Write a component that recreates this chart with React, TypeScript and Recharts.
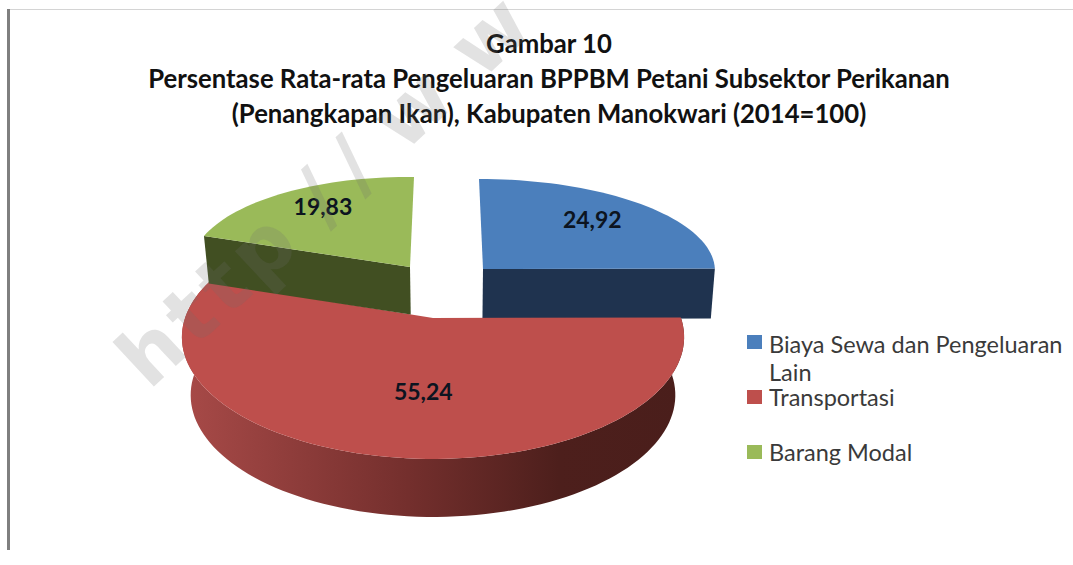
import React from 'react';
import { PieChart, Pie, Legend } from 'recharts';

const titleLines = [
  'Gambar 10',
  'Persentase Rata-rata Pengeluaran BPPBM Petani Subsektor Perikanan',
  '(Penangkapan Ikan), Kabupaten Manokwari (2014=100)',
];
const categories = ['Biaya Sewa dan Pengeluaran Lain', 'Transportasi', 'Barang Modal'];
const values = [24.92, 55.24, 19.83];
const topColors = ['#4b7fbc', '#be4f4c', '#9aba59'];
const wallColors = ['#1f334f', 'url(#redWall)', '#414f22'];

const data = categories.map((name, i) => ({ name, value: values[i], fill: topColors[i] }));

// Look of each exploded slice: offset from the pie centre, ellipse shape, perspective, wall.
const sliceLook = [
  { ox: 50, oy: -49, rx: 0.935, ry: 0.363, k: 0, sx: -4, sy: 0, depth: 50, vx: 446, taper: 0.985, wall: 'end', lr: 0.68, ldx: 0, ldy: -7 },
  { ox: 0, oy: 0, rx: 1, ry: 0.479, k: 0.157, sx: 0, sy: 0, depth: 58, vx: 433, taper: 0.965, wall: 'rim', lr: 0.57, ldx: 15, ldy: 0 },
  { ox: -23, oy: -51, rx: 0.882, ry: 0.363, k: 0, sx: 4, sy: 2.4, depth: 47.5, vx: 446, taper: 0.98, wall: 'start', lr: 0.7, ldx: 0, ldy: -9 },
];

const project = (look: any, cx: number, cy: number, R: number, theta: number, r = 1) => {
  const a = (theta * Math.PI) / 180;
  const u = r * Math.sin(a);
  const v = r * Math.cos(a);
  const w = 1 + look.k * v;
  return {
    x: cx + look.ox + (R * look.rx * u) / w + look.sx * v,
    y: cy + look.oy - (R * look.ry * v) / w + look.sy * u,
  };
};

const toPath = (pts: { x: number; y: number }[]) =>
  pts.map((p, i) => `${i ? 'L' : 'M'}${p.x.toFixed(2)},${p.y.toFixed(2)}`).join(' ') + ' Z';

const Slice3D = (props: any) => {
  const { cx, cy, outerRadius, startAngle, endAngle, payload, fill } = props;
  const i = categories.indexOf(payload?.name ?? props.name);
  const look = sliceLook[i];
  const t0 = 90 - startAngle;
  const t1 = 90 - endAngle;
  const n = Math.max(2, Math.ceil((t1 - t0) / 2));
  const rim: { x: number; y: number }[] = [];
  for (let s = 0; s <= n; s++) rim.push(project(look, cx, cy, outerRadius, t0 + ((t1 - t0) * s) / n));
  const apex = project(look, cx, cy, outerRadius, t0, 0);
  let wallTop = rim;
  if (look.wall === 'start') wallTop = [rim[0], apex];
  if (look.wall === 'end') wallTop = [apex, rim[rim.length - 1]];
  const wallBottom = wallTop
    .map((p) => ({ x: look.vx + (p.x - look.vx) * look.taper, y: p.y + look.depth }))
    .reverse();
  return (
    <g>
      <path d={toPath([...wallTop, ...wallBottom])} fill={wallColors[i]} />
      <path d={toPath([apex, ...rim])} fill={fill} />
    </g>
  );
};

const renderValue = (props: any) => {
  const { cx, cy, outerRadius, midAngle, index, value } = props;
  const look = sliceLook[index];
  const p = project(look, cx, cy, outerRadius, 90 - midAngle, look.lr);
  return (
    <text
      x={p.x + look.ldx}
      y={p.y + look.ldy}
      textAnchor="middle"
      dominantBaseline="central"
      fontFamily="Lato"
      fontWeight={700}
      fontSize={23}
      fill="#0c1420"
    >
      {String(value).replace('.', ',')}
    </text>
  );
};

const legendRowTops = [328, 383, 438];
const legendTextNudge = [1.5, 0, 0];

const LegendContent = ({ payload }: any) => (
  <div style={{ position: 'relative', width: 325, height: 145, fontFamily: 'Lato', fontSize: 23.5, color: '#3a3a3a' }}>
    {(payload ?? []).map((entry: any, i: number) => (
      <div key={entry.value} style={{ position: 'absolute', left: 0, top: legendRowTops[i] - 328, width: 325 }}>
        <span style={{ position: 'absolute', left: 0, top: 7, width: 15, height: 14, background: entry.color }} />
        <div style={{ marginLeft: 22, marginTop: legendTextNudge[i], width: 300, lineHeight: '28px' }}>{entry.value}</div>
      </div>
    ))}
  </div>
);

export default function App() {
  return (
    <div style={{ position: 'absolute', left: 0, top: 0, width: 1073, height: 565, background: '#fff', overflow: 'hidden' }}>
      <div style={{ position: 'absolute', left: 8, top: 9, width: 1065, height: 1, background: '#d4d4d4' }} />
      <div style={{ position: 'absolute', left: 7, top: 9, width: 3, height: 541, background: '#7f7f7f' }} />
      <PieChart width={1073} height={565} margin={{ top: 0, right: 0, bottom: 0, left: 0 }}>
        <defs>
          <linearGradient id="redWall" x1="0" y1="0" x2="1" y2="0">
            <stop offset="0" stopColor="#a84a48" />
            <stop offset="0.45" stopColor="#742f2d" />
            <stop offset="0.75" stopColor="#4d1f1c" />
            <stop offset="1" stopColor="#4a1e1b" />
          </linearGradient>
        </defs>
        {titleLines.map((line, i) => (
          <text
            key={line}
            x={549}
            y={53 + i * 35}
            textAnchor="middle"
            fontFamily="Lato"
            fontWeight={700}
            fontSize={25.7}
            fill="#111"
          >
            {line}
          </text>
        ))}
        <Pie
          data={data}
          dataKey="value"
          nameKey="name"
          cx={433}
          cy={318}
          outerRadius={248}
          startAngle={90}
          endAngle={-270}
          stroke="none"
          shape={Slice3D}
          label={renderValue}
          labelLine={false}
          isAnimationActive={false}
        />
        <Legend
          content={<LegendContent />}
          layout="vertical"
          align="right"
          verticalAlign="top"
          itemSorter={null}
          wrapperStyle={{ position: 'absolute', left: 747, top: 328, width: 325 }}
        />
      </PieChart>
      <svg width={1073} height={565} style={{ position: 'absolute', left: 0, top: 0, pointerEvents: 'none' }}>
        <text
          transform="translate(149 391) rotate(-43)"
          fontFamily="DejaVu Sans"
          fontWeight={700}
          fontSize={80}
          dx="0 6 6 6 33 18 30 32 32"
          fill="rgba(110,110,110,0.2)"
        >
          http//www
        </text>
      </svg>
    </div>
  );
}
